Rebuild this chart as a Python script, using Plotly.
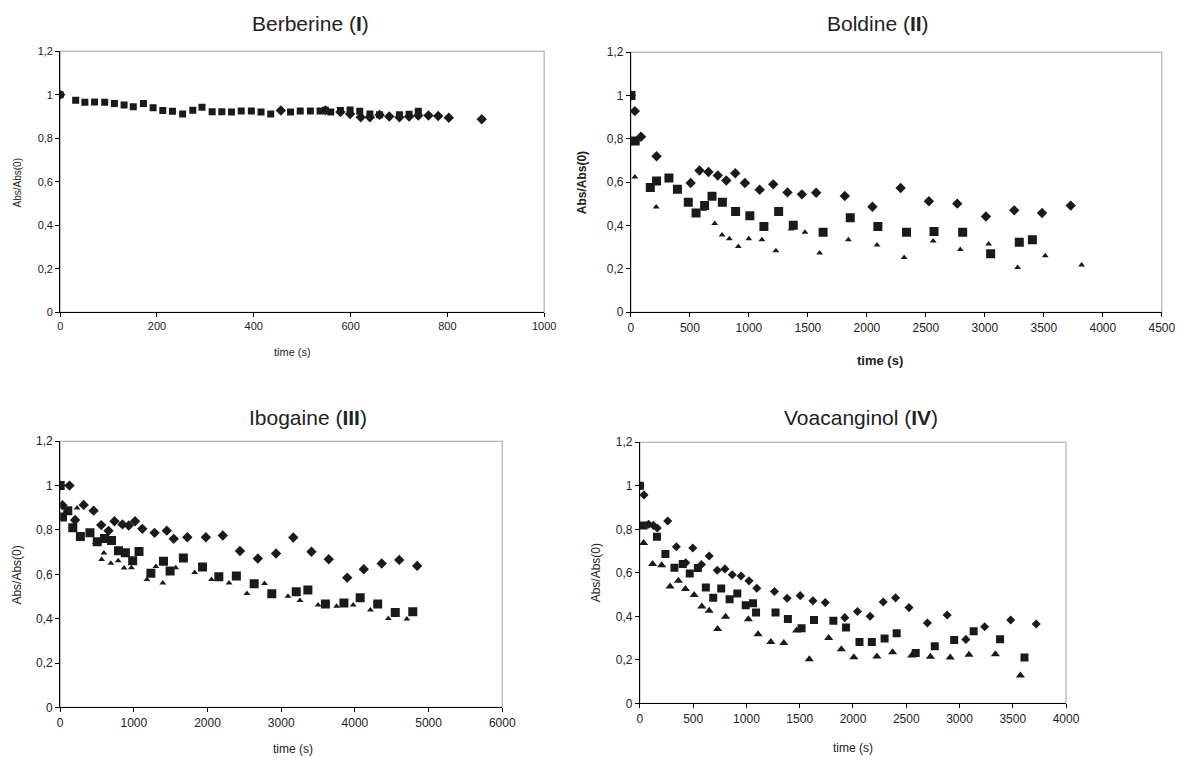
import plotly.graph_objects as go

# ---------------- DATA ----------------
# Berberine (I)
ber_sq_t = [0, 32, 51, 71, 92, 112, 132, 151, 172, 192, 212, 232, 253, 274, 293, 314, 334, 354, 374, 395,
            415, 435, 476, 496, 517, 537, 548, 559, 579, 599, 619, 640, 660, 701, 721, 740]
ber_sq_y = [1.0, 0.974, 0.965, 0.966, 0.965, 0.960, 0.953, 0.945, 0.960, 0.940, 0.927, 0.924, 0.911, 0.928,
            0.942, 0.922, 0.922, 0.920, 0.925, 0.925, 0.920, 0.911, 0.920, 0.925, 0.925, 0.925, 0.928, 0.920,
            0.927, 0.930, 0.924, 0.911, 0.908, 0.908, 0.910, 0.924]
ber_di_t = [0, 456, 548, 579, 599, 621, 640, 660, 680, 701, 721, 740, 761, 781, 803, 871]
ber_di_y = [1.0, 0.927, 0.928, 0.920, 0.911, 0.896, 0.896, 0.907, 0.900, 0.896, 0.900, 0.904, 0.904, 0.902,
            0.894, 0.887]

# Boldine (II)
bol_di_t = [0, 33, 85, 217, 506, 581, 657, 736, 808, 884, 966, 1091, 1206, 1327, 1449, 1570, 1813, 2047,
            2286, 2526, 2766, 3009, 3249, 3485, 3728]
bol_di_y = [1.0, 0.928, 0.810, 0.720, 0.596, 0.654, 0.647, 0.631, 0.608, 0.641, 0.596, 0.565, 0.590, 0.553,
            0.544, 0.551, 0.536, 0.487, 0.573, 0.512, 0.501, 0.442, 0.470, 0.458, 0.492]
bol_sq_t = [0, 36, 164, 217, 322, 394, 486, 552, 624, 687, 775, 887, 1008, 1127, 1252, 1376, 1629, 1859,
            2093, 2336, 2569, 2812, 3049, 3292, 3403]
bol_sq_y = [1.0, 0.790, 0.576, 0.605, 0.619, 0.568, 0.508, 0.458, 0.493, 0.535, 0.508, 0.465, 0.445, 0.396,
            0.465, 0.401, 0.369, 0.436, 0.396, 0.369, 0.373, 0.369, 0.270, 0.323, 0.335]
bol_tr_t = [0, 33, 214, 618, 710, 772, 834, 910, 999, 1110, 1229, 1357, 1475, 1600, 1843, 2086, 2316, 2562,
            2792, 3032, 3278, 3512, 3820]
bol_tr_y = [1.0, 0.624, 0.485, 0.475, 0.409, 0.356, 0.339, 0.303, 0.339, 0.335, 0.284, 0.384, 0.369, 0.273,
            0.335, 0.310, 0.253, 0.329, 0.290, 0.315, 0.206, 0.261, 0.218]

# Ibogaine (III)
ibo_di_t = [0, 31, 126, 202, 319, 454, 557, 656, 737, 845, 930, 1016, 1115, 1281, 1447, 1541, 1726, 1977,
            2207, 2440, 2683, 2930, 3164, 3411, 3645, 3896, 4121, 4364, 4602, 4845]
ibo_di_y = [1.0, 0.912, 1.0, 0.845, 0.913, 0.887, 0.822, 0.796, 0.839, 0.825, 0.820, 0.839, 0.805, 0.787,
            0.797, 0.760, 0.767, 0.767, 0.775, 0.705, 0.671, 0.694, 0.766, 0.702, 0.668, 0.585, 0.623, 0.649,
            0.665, 0.638]
ibo_sq_t = [0, 31, 103, 171, 274, 404, 503, 602, 697, 791, 885, 984, 1070, 1231, 1402, 1492, 1672, 1932,
            2153, 2391, 2633, 2872, 3204, 3362, 3600, 3851, 4072, 4310, 4548, 4786]
ibo_sq_y = [1.0, 0.858, 0.887, 0.810, 0.770, 0.787, 0.747, 0.761, 0.753, 0.706, 0.697, 0.661, 0.703, 0.605,
            0.659, 0.615, 0.673, 0.633, 0.589, 0.592, 0.557, 0.512, 0.521, 0.529, 0.466, 0.471, 0.494, 0.466,
            0.428, 0.431]
ibo_tr_t = [0, 229, 476, 562, 593, 688, 787, 867, 966, 1177, 1299, 1393, 1568, 1825, 2054, 2292, 2535, 2773,
            3092, 3254, 3501, 3752, 3977, 4211, 4454, 4705]
ibo_tr_y = [1.0, 0.899, 0.744, 0.667, 0.696, 0.650, 0.661, 0.629, 0.630, 0.577, 0.635, 0.561, 0.630, 0.608,
            0.577, 0.561, 0.513, 0.559, 0.501, 0.482, 0.462, 0.456, 0.462, 0.439, 0.401, 0.398]

# Voacanginol (IV)
voa_di_t = [0, 38, 82, 126, 163, 261, 342, 430, 496, 578, 650, 726, 798, 867, 949, 1024, 1097, 1263, 1382,
            1505, 1624, 1740, 1923, 2042, 2161, 2284, 2400, 2526, 2699, 2884, 3060, 3236, 3481, 3720]
voa_di_y = [1.0, 0.958, 0.823, 0.818, 0.806, 0.838, 0.720, 0.646, 0.714, 0.638, 0.677, 0.612, 0.618, 0.591,
            0.585, 0.563, 0.529, 0.514, 0.483, 0.495, 0.471, 0.463, 0.394, 0.422, 0.400, 0.466, 0.485, 0.440,
            0.369, 0.406, 0.294, 0.352, 0.383, 0.365]
voa_sq_t = [0, 35, 160, 239, 324, 402, 468, 544, 619, 688, 763, 842, 914, 993, 1062, 1090, 1273, 1389, 1518,
            1634, 1816, 1935, 2061, 2177, 2297, 2410, 2589, 2768, 2950, 3133, 3381, 3610]
voa_sq_y = [1.0, 0.817, 0.766, 0.686, 0.623, 0.640, 0.597, 0.622, 0.532, 0.485, 0.528, 0.478, 0.505, 0.451,
            0.460, 0.418, 0.418, 0.388, 0.345, 0.383, 0.380, 0.349, 0.282, 0.282, 0.298, 0.322, 0.231, 0.263,
            0.291, 0.331, 0.295, 0.211]
voa_tr_t = [35, 119, 204, 283, 361, 427, 509, 581, 650, 729, 804, 1018, 1109, 1229, 1351, 1471, 1590, 1772,
            1891, 2008, 2225, 2372, 2551, 2727, 2913, 3089, 3337, 3572]
voa_tr_y = [0.737, 0.640, 0.635, 0.537, 0.563, 0.526, 0.498, 0.445, 0.426, 0.342, 0.398, 0.386, 0.318, 0.282,
            0.277, 0.335, 0.203, 0.300, 0.249, 0.212, 0.215, 0.235, 0.220, 0.214, 0.211, 0.223, 0.226, 0.128]

titles = ["Berberine (<b>I</b>)", "Boldine (<b>II</b>)", "Ibogaine (<b>III</b>)", "Voacanginol (<b>IV</b>)"]
x_ranges = [[0, 1000], [0, 4500], [0, 6000], [0, 4000]]
x_dticks = [200, 500, 1000, 500]

# ---------------- FIGURE ----------------
W, H = 1169, 748
FONT = "Liberation Sans, Arial, sans-serif"
fig = go.Figure()

# target screen positions (left, right, top, bottom)
boxes = [(60, 545, 51, 312), (632, 1164, 52, 312), (60, 503, 441, 707), (641, 1068, 442, 703)]


def clamp(v):
    return max(0.0, min(1.0, v))


# screen-position -> paper fraction (page offset/scale compensation)
def px2x(r):
    return clamp(((r - 10.7) / 0.9876) / W)


def px2y(r):
    return clamp(1 - ((r - 14.85) / 0.981) / H)


series = [
    [(ber_di_t, ber_di_y, "diamond", 8), (ber_sq_t, ber_sq_y, "square", 7)],
    [(bol_di_t, bol_di_y, "diamond", 8), (bol_sq_t, bol_sq_y, "square", 9), (bol_tr_t, bol_tr_y, "triangle-up", 6)],
    [(ibo_di_t, ibo_di_y, "diamond", 8), (ibo_sq_t, ibo_sq_y, "square", 9), (ibo_tr_t, ibo_tr_y, "triangle-up", 6)],
    [(voa_di_t, voa_di_y, "diamond", 7), (voa_sq_t, voa_sq_y, "square", 8), (voa_tr_t, voa_tr_y, "triangle-up", 8)],
]
title_pos = [(311, 23), (880, 23), (308, 417), (863, 417)]
tick_sizes = [11, 12, 12, 12]

for i, (box, ser) in enumerate(zip(boxes, series)):
    n = i + 1
    xa = "x" if n == 1 else f"x{n}"
    ya = "y" if n == 1 else f"y{n}"
    for t, y, sym, sz in ser:
        fig.add_trace(go.Scatter(x=t, y=y, mode="markers", xaxis=xa, yaxis=ya, showlegend=False,
                                 marker=dict(symbol=sym, size=sz, color="#1a1a1a", line=dict(width=0))))
    l, r, tp, b = box
    common = dict(showgrid=False, zeroline=False, showline=True, linecolor="black", linewidth=1,
                  ticks="outside", ticklen=4, tickcolor="black",
                  tickfont=dict(family=FONT, size=tick_sizes[i], color="#222"))
    fig.layout[f"xaxis{'' if n == 1 else n}"] = dict(
        domain=[px2x(l), px2x(r)], range=x_ranges[i], dtick=x_dticks[i], tick0=0,
        anchor=ya, **common)
    fig.layout[f"yaxis{'' if n == 1 else n}"] = dict(
        domain=[px2y(b), px2y(tp)], range=[0, 1.2], dtick=0.2, tick0=0,
        anchor=xa, **common)
    # grey frame on top/right
    fig.add_shape(type="rect", xref="paper", yref="paper", x0=px2x(l), x1=px2x(r), y0=px2y(b), y1=px2y(tp),
                  line=dict(color="#a0a0a0", width=1), layer="below")
    # title
    tx, ty = title_pos[i]
    fig.add_annotation(text=titles[i], xref="paper", yref="paper", x=px2x(tx), y=px2y(ty),
                       showarrow=False, font=dict(family=FONT, size=21, color="#222"),
                       xanchor="center", yanchor="middle")

# axis titles
xlabels = [("time (s)", 293, 352, 11), ("<b>time (s)</b>", 882, 360, 13),
           ("time (s)", 293, 755, 12), ("time (s)", 855, 748, 12)]
for txt, xp, yp, sz in xlabels:
    fig.add_annotation(text=txt, xref="paper", yref="paper", x=px2x(xp), y=px2y(yp), showarrow=False,
                       font=dict(family=FONT, size=sz, color="#222"), xanchor="center", yanchor="middle")
ylabels = [("Abs/Abs(0)", 17, 183, 10), ("<b>Abs/Abs(0)</b>", 583, 183, 12),
           ("Abs/Abs(0)", 17, 575, 12), ("Abs/Abs(0)", 597, 573, 12)]
for txt, xp, yp, sz in ylabels:
    fig.add_annotation(text=txt, xref="paper", yref="paper", x=px2x(xp), y=px2y(yp), showarrow=False,
                       textangle=-90, font=dict(family=FONT, size=sz, color="#222"),
                       xanchor="center", yanchor="middle")

fig.update_layout(width=W, height=H, margin=dict(l=0, r=0, t=0, b=0), separators=", ",
                  paper_bgcolor="white", plot_bgcolor="white", font=dict(family=FONT))

fig.write_html("out.html")
